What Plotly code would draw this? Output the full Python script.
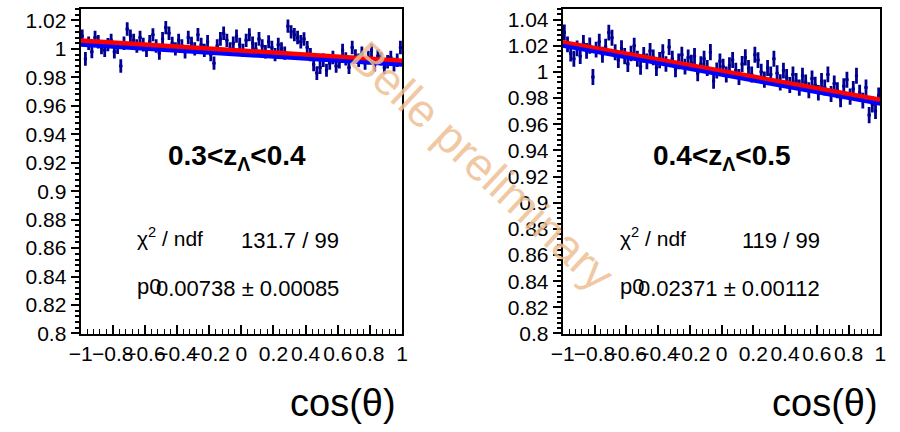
import plotly.graph_objects as go

# ---------------- data ----------------
bin_centers = [round(-0.99 + 0.02 * i, 2) for i in range(100)]

left_values = [
    1.009, 0.993, 1.004, 0.998, 1.008, 1.005, 1.001, 0.999, 1.003, 1.006,
    0.998, 1.001, 0.988, 1.004, 1.014, 1.009, 1.006, 1.002, 1.008, 1.003,
    0.999, 1.005, 1.010, 1.002, 0.997, 1.007, 1.015, 1.011, 1.004, 1.000,
    1.006, 1.002, 0.998, 1.008, 1.004, 1.000, 1.010, 1.003, 0.999, 1.005,
    0.996, 0.990, 1.002, 1.007, 1.011, 1.006, 1.000, 1.004, 1.009, 1.003,
    0.999, 1.006, 1.010, 1.004, 1.000, 1.007, 1.002, 0.998, 1.005, 1.001,
    0.996, 1.003, 1.000, 0.997, 1.016, 1.012, 1.010, 1.008, 1.005, 1.007,
    1.001, 0.996, 0.989, 0.983, 0.987, 0.992, 0.985, 0.990, 0.994, 0.988,
    0.991, 0.999, 0.993, 0.987, 1.001, 0.995, 0.992, 0.997, 0.990, 0.994,
    0.999, 0.989, 0.995, 0.993, 0.987, 0.991, 0.994, 0.989, 0.992, 1.001,
]
left_errors = [
    0.0047, 0.0048, 0.0047, 0.0046, 0.0047, 0.0048, 0.0047, 0.0046, 0.0047, 0.0047,
    0.0047, 0.0046, 0.0047, 0.0048, 0.0047, 0.0047, 0.0046, 0.0047, 0.0047, 0.0048,
    0.0047, 0.0047, 0.0046, 0.0047, 0.0047, 0.0048, 0.0047, 0.0047, 0.0046, 0.0047,
    0.0047, 0.0048, 0.0047, 0.0047, 0.0046, 0.0047, 0.0047, 0.0048, 0.0047, 0.0047,
    0.0046, 0.0047, 0.0047, 0.0048, 0.0047, 0.0047, 0.0046, 0.0047, 0.0047, 0.0048,
    0.0047, 0.0047, 0.0046, 0.0047, 0.0047, 0.0048, 0.0047, 0.0047, 0.0046, 0.0047,
    0.0047, 0.0048, 0.0047, 0.0047, 0.0046, 0.0047, 0.0047, 0.0048, 0.0047, 0.0047,
    0.0046, 0.0047, 0.0047, 0.0048, 0.0047, 0.0047, 0.0046, 0.0047, 0.0047, 0.0048,
    0.0047, 0.0047, 0.0046, 0.0047, 0.0047, 0.0048, 0.0047, 0.0047, 0.0046, 0.0047,
    0.0047, 0.0048, 0.0047, 0.0047, 0.0046, 0.0047, 0.0047, 0.0048, 0.0047, 0.0047,
]
right_values = [
    1.030, 1.021, 1.014, 1.010, 1.018, 1.012, 1.022, 1.016, 1.020, 0.996,
    1.017, 1.023, 1.013, 1.019, 1.030, 1.026, 1.015, 1.009, 1.018, 1.012,
    1.006, 1.014, 1.020, 1.010, 1.004, 1.013, 1.008, 1.016, 1.011, 1.003,
    1.009, 1.015, 1.006, 1.019, 1.010, 1.002, 1.008, 1.013, 1.004, 1.011,
    1.007, 1.012, 0.999, 1.006, 1.010, 1.003, 1.015, 0.993, 1.001, 1.008,
    1.004, 0.998, 1.005, 1.009, 1.001, 0.996, 1.006, 1.011, 1.003, 0.998,
    1.013, 1.009, 1.000, 0.994, 1.003, 0.998, 1.010, 0.999, 0.992, 1.001,
    0.996, 0.990, 0.998, 0.993, 0.988, 0.997, 0.992, 0.986, 0.995, 0.990,
    0.984, 0.993, 0.988, 0.998, 0.983, 0.991, 0.986, 0.979, 0.989, 0.994,
    0.981, 0.987, 0.997, 0.984, 0.978, 0.988, 0.967, 0.975, 0.970, 0.982,
]
right_errors = [
    0.0061, 0.0060, 0.0061, 0.0062, 0.0060, 0.0061, 0.0061, 0.0060, 0.0062, 0.0061,
    0.0060, 0.0061, 0.0061, 0.0062, 0.0060, 0.0061, 0.0061, 0.0060, 0.0061, 0.0062,
    0.0061, 0.0060, 0.0061, 0.0061, 0.0062, 0.0060, 0.0061, 0.0061, 0.0060, 0.0061,
    0.0062, 0.0061, 0.0060, 0.0061, 0.0061, 0.0062, 0.0060, 0.0061, 0.0061, 0.0060,
    0.0061, 0.0062, 0.0061, 0.0060, 0.0061, 0.0061, 0.0062, 0.0060, 0.0061, 0.0061,
    0.0060, 0.0061, 0.0062, 0.0061, 0.0060, 0.0061, 0.0061, 0.0062, 0.0060, 0.0061,
    0.0061, 0.0060, 0.0061, 0.0062, 0.0061, 0.0060, 0.0061, 0.0061, 0.0062, 0.0060,
    0.0061, 0.0061, 0.0060, 0.0061, 0.0062, 0.0061, 0.0060, 0.0061, 0.0061, 0.0062,
    0.0060, 0.0061, 0.0061, 0.0060, 0.0061, 0.0062, 0.0061, 0.0060, 0.0061, 0.0061,
    0.0062, 0.0060, 0.0061, 0.0061, 0.0060, 0.0061, 0.0062, 0.0061, 0.0060, 0.0061,
]
bin_half_width = [0.01] * 100

fit_x = [-1.0, 1.0]
left_fit_red = [1.0058, 0.9915]
left_fit_blue = [1.0030, 0.9888]
right_fit_red = [1.0224, 0.9786]
right_fit_blue = [1.0200, 0.9755]

panel_titles = ["0.3&lt;z<sub>Λ</sub>&lt;0.4", "0.4&lt;z<sub>Λ</sub>&lt;0.5"]
chi2_text = ["131.7 / 99", "119 / 99"]
p0_text = ["0.00738 ± 0.00085", "0.02371 ± 0.00112"]
y_ranges = [[0.8, 1.0282], [0.8, 1.0482]]

# ---------------- figure ----------------
FONT = "Liberation Sans, Arial, Helvetica, sans-serif"
NAVY = "#000090"

fig = go.Figure()

panels = [
    (left_values, left_errors, left_fit_red, left_fit_blue, "x", "y"),
    (right_values, right_errors, right_fit_red, right_fit_blue, "x2", "y2"),
]
for vals, errs, fr, fb, xa, ya in panels:
    fig.add_trace(go.Scatter(
        x=bin_centers, y=vals, mode="markers", xaxis=xa, yaxis=ya,
        marker=dict(color=NAVY, size=3, symbol="square"),
        error_y=dict(type="data", array=errs, visible=True, color=NAVY, thickness=2.8, width=0),
        error_x=dict(type="data", array=bin_half_width, visible=True, color=NAVY, thickness=1.5, width=0),
        showlegend=False, hoverinfo="skip"))
    fig.add_trace(go.Scatter(x=fit_x, y=fr, mode="lines", xaxis=xa, yaxis=ya,
                             line=dict(color="#ff0000", width=5), showlegend=False))
    fig.add_trace(go.Scatter(x=fit_x, y=fb, mode="lines", xaxis=xa, yaxis=ya,
                             line=dict(color="#0000ff", width=4), showlegend=False))

x_domains = [[70 / 900, 398 / 900], [562 / 900, 886 / 900]]
y_domain = [1 - 342 / 432, 1 - 8 / 432]

def xaxis_cfg(dom, anchor):
    return dict(domain=dom, anchor=anchor, range=[-1, 1], dtick=0.2, tick0=-1,
                ticks="inside", ticklen=9, tickwidth=1.5, tickcolor="black",
                minor=dict(dtick=0.04, ticks="inside", ticklen=5, tickcolor="black", tickwidth=1),
                showline=True, linecolor="black", linewidth=2, mirror=True,
                showgrid=False, zeroline=False, tickangle=0,
                tickfont=dict(family=FONT, size=21, color="black"))

def yaxis_cfg(rng, anchor):
    return dict(domain=y_domain, anchor=anchor, range=rng, dtick=0.02, tick0=0.8,
                ticks="outside", ticklen=8, tickwidth=2, tickcolor="black",
                minor=dict(dtick=0.004, ticks="outside", ticklen=4, tickcolor="black", tickwidth=1.5),
                showline=True, linecolor="black", linewidth=2, mirror=True,
                showgrid=False, zeroline=False, tickformat="~g",
                tickfont=dict(family=FONT, size=21, color="black"))

fig.update_layout(
    width=900, height=432,
    margin=dict(l=0, r=0, t=0, b=0),
    paper_bgcolor="white", plot_bgcolor="white",
    xaxis=xaxis_cfg(x_domains[0], "y"),
    yaxis=yaxis_cfg(y_ranges[0], "x"),
    xaxis2=xaxis_cfg(x_domains[1], "y2"),
    yaxis2=yaxis_cfg(y_ranges[1], "x2"),
)

annotations = []
title_x = [230, 724]
stat_label_x = [126, 618]
stat_val_right = [336, 827]
cos_right = [394, 886]
for i in range(2):
    annotations.append(dict(x=title_x[i] / 900, y=1 - 161 / 432, xref="paper", yref="paper",
                            text="<b>" + panel_titles[i] + "</b>", showarrow=False,
                            font=dict(family=FONT, size=28, color="black"),
                            xanchor="center", yanchor="middle"))
    annotations.append(dict(x=stat_label_x[i] / 900, y=1 - 243 / 432, xref="paper", yref="paper",
                            text="χ<sup>2</sup> / ndf", showarrow=False,
                            font=dict(family=FONT, size=21, color="black"),
                            xanchor="left", yanchor="middle"))
    annotations.append(dict(x=stat_val_right[i] / 900, y=1 - 246 / 432, xref="paper", yref="paper",
                            text=chi2_text[i], showarrow=False,
                            font=dict(family=FONT, size=22, color="black"),
                            xanchor="right", yanchor="middle"))
    annotations.append(dict(x=stat_label_x[i] / 900, y=1 - 294 / 432, xref="paper", yref="paper",
                            text="p0", showarrow=False,
                            font=dict(family=FONT, size=22, color="black"),
                            xanchor="left", yanchor="middle"))
    annotations.append(dict(x=stat_val_right[i] / 900, y=1 - 296 / 432, xref="paper", yref="paper",
                            text=p0_text[i], showarrow=False,
                            font=dict(family=FONT, size=22, color="black"),
                            xanchor="right", yanchor="middle"))
    annotations.append(dict(x=cos_right[i] / 900, y=1 - 413 / 432, xref="paper", yref="paper",
                            text="cos(θ)", showarrow=False,
                            font=dict(family=FONT, size=38, color="black"),
                            xanchor="right", yanchor="middle"))

annotations.append(dict(x=480 / 900, y=1 - 170 / 432, xref="paper", yref="paper",
                        text="Belle preliminary", showarrow=False, textangle=43,
                        font=dict(family=FONT, size=46, color="rgba(238,192,148,0.85)"),
                        xanchor="center", yanchor="middle"))
fig.update_layout(annotations=annotations)

fig.write_html("out.html")
